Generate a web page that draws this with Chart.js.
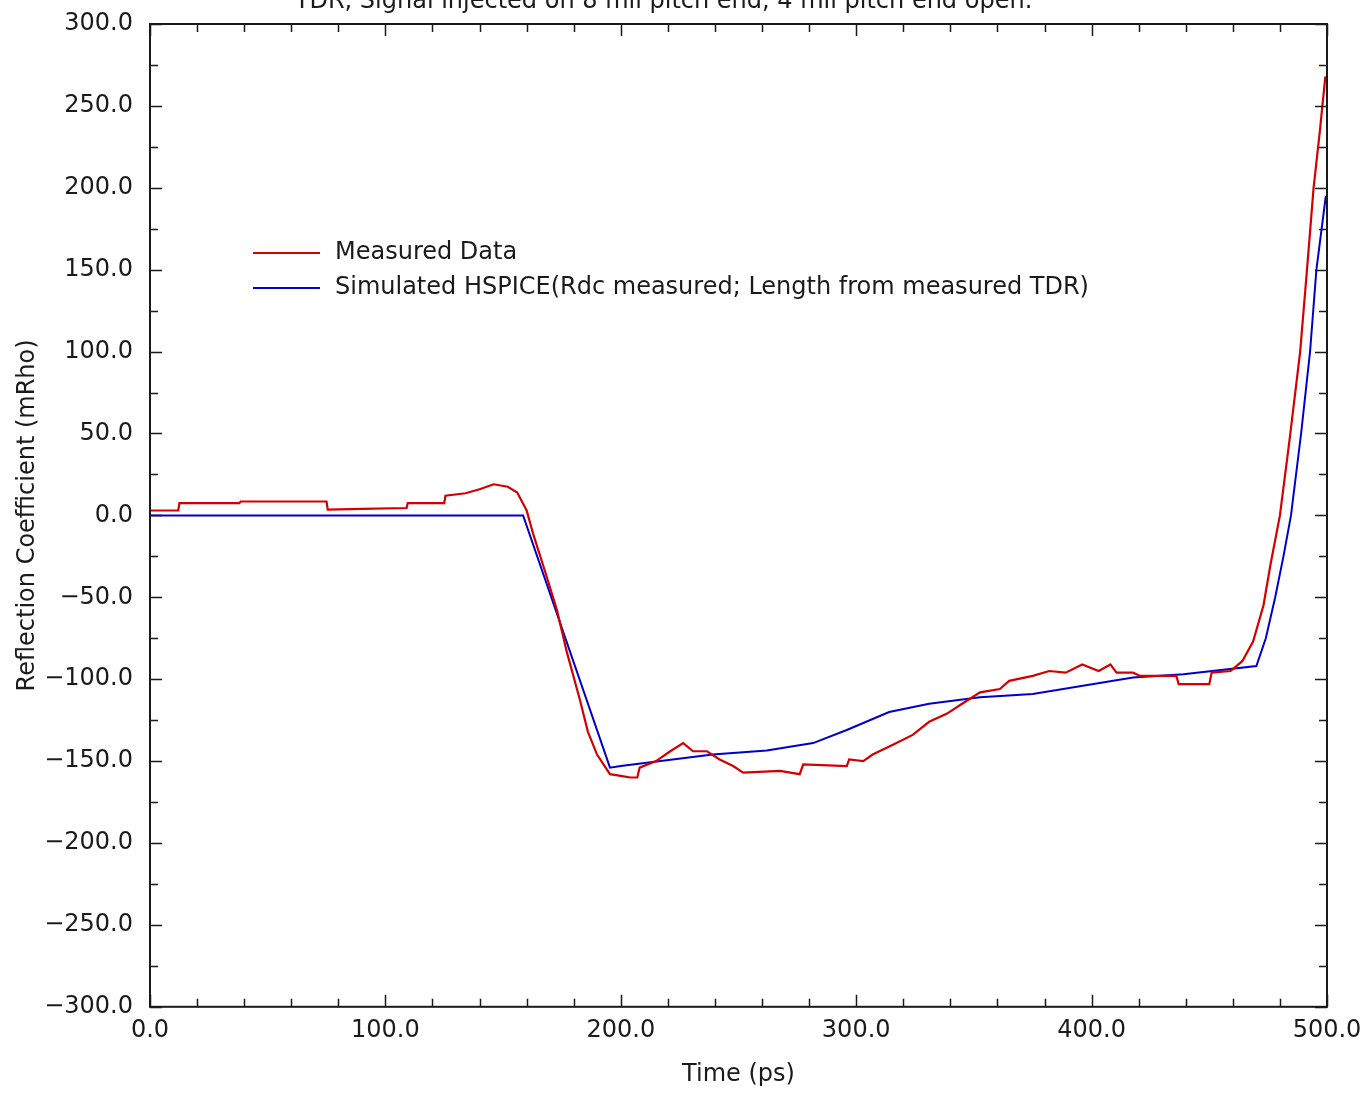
<!DOCTYPE html>
<html>
<head>
<meta charset="utf-8">
<script src="https://cdn.jsdelivr.net/npm/chart.js"></script>
<style>
  html, body { margin: 0; padding: 0; background: #fff; overflow: hidden; }
  #wrap { position: absolute; left: 0; top: -14px; width: 1364px; height: 1107px; }
</style>
</head>
<body>
<div id="wrap"><canvas id="tdrChart"></canvas></div>
<script>
// Measured TDR (red)
const measuredTime = [0, 12, 12.5, 38, 38.5, 75, 75.5, 90, 109, 109.5, 125, 125.5, 134, 140, 146, 152, 156, 160,
  162.7, 168, 172.9, 177, 182.7, 186, 189.9, 195.4, 200, 204, 207, 208, 215, 221, 226.5, 230.7, 236.6, 242,
  247.7, 252, 267.6, 276, 277.5, 296, 297, 303, 307, 315.6, 324, 331, 338.6, 345, 352.6, 361, 365, 375, 382,
  389, 396, 403, 408, 410.6, 417.6, 420.6, 436, 437, 450, 451, 459, 464, 468.6, 473, 476, 480, 484, 488.6,
  491.5, 494.3, 497, 499.3];
const measuredRho = [3, 3, 7.5, 7.5, 8.5, 8.5, 3.5, 4, 4.5, 7.5, 7.5, 12, 13.5, 16, 19, 17.5, 14, 3,
  -11, -35, -58, -83, -113, -132, -146, -158, -159, -160, -160, -154, -150, -144, -139, -144, -144, -149,
  -153, -157, -156, -158, -152, -153, -149, -150, -146, -140, -134, -126, -121, -115, -108, -106, -101, -98, -95,
  -96, -91, -95, -91, -96, -96, -98, -98, -103, -103, -96, -95, -89, -77, -55, -30, 0, 45, 100,
  150, 200, 235, 268];

// Simulated HSPICE (blue)
const simulatedTime = [0, 158.5, 195.4, 200, 239, 262, 281.7, 296, 314, 331, 352.6, 375, 417.6, 439, 470,
  474, 478, 481.5, 484.7, 489, 492.8, 495.5, 499.5];
const simulatedRho = [0, 0, -154, -153, -146, -143.5, -139, -131, -120, -115, -111, -109, -99, -97, -92,
  -75, -50, -25, 0, 50, 100, 150, 195];

const seriesLabels = ['Measured Data', 'Simulated HSPICE(Rdc measured; Length from measured TDR)'];
const seriesColors = ['#d40000', '#0000c8'];

const FONT = 'DejaVu Sans';
const INK = '#1a1a1a';

const toPoints = (xs, ys) => xs.map((x, i) => ({ x: x, y: ys[i] }));
const fmt = v => v.toFixed(1).replace('-', '\u2212');

// Cadre + petites graduations vers l'intérieur sur les 4 côtés, et légende dans la zone du tracé
const framePlugin = {
  id: 'frame',
  afterDatasetsDraw(chart) {
    const { ctx, chartArea: a, scales: { x, y } } = chart;
    ctx.save();
    ctx.strokeStyle = INK;
    ctx.lineWidth = 2;
    ctx.strokeRect(a.left, a.top, a.right - a.left, a.bottom - a.top);
    ctx.lineWidth = 1.5;
    ctx.beginPath();
    for (let v = 0; v <= 500; v += 20) {
      const px = Math.round(x.getPixelForValue(v)) + 0.5;
      const len = v % 100 === 0 ? 12 : 8;
      ctx.moveTo(px, a.bottom); ctx.lineTo(px, a.bottom - len);
      ctx.moveTo(px, a.top); ctx.lineTo(px, a.top + len);
    }
    for (let v = -300; v <= 300; v += 25) {
      const py = Math.round(y.getPixelForValue(v)) + 0.5;
      const len = v % 50 === 0 ? 12 : 8;
      ctx.moveTo(a.left, py); ctx.lineTo(a.left + len, py);
      ctx.moveTo(a.right, py); ctx.lineTo(a.right - len, py);
    }
    ctx.stroke();

    // légende
    ctx.font = '24px "' + FONT + '"';
    ctx.textBaseline = 'middle';
    ctx.fillStyle = INK;
    chart.data.datasets.forEach((ds, i) => {
      const ly = a.top + 229 + i * 35;
      ctx.strokeStyle = ds.borderColor;
      ctx.lineWidth = 2;
      ctx.beginPath();
      ctx.moveTo(a.left + 103, ly);
      ctx.lineTo(a.left + 170, ly);
      ctx.stroke();
      ctx.fillText(ds.label, a.left + 185, ly);
    });
    ctx.restore();
  }
};

new Chart(document.getElementById('tdrChart'), {
  type: 'line',
  data: {
    datasets: [
      {
        label: seriesLabels[0],
        data: toPoints(measuredTime, measuredRho),
        borderColor: seriesColors[0],
        borderWidth: 2.2,
        pointRadius: 0,
        tension: 0
      },
      {
        label: seriesLabels[1],
        data: toPoints(simulatedTime, simulatedRho),
        borderColor: seriesColors[1],
        borderWidth: 2,
        pointRadius: 0,
        tension: 0
      }
    ]
  },
  options: {
    responsive: true,
    maintainAspectRatio: false,
    animation: false,
    layout: { padding: { left: 0, right: 37, top: 0, bottom: 0 } },
    plugins: {
      legend: { display: false },
      tooltip: { enabled: false },
      title: {
        display: true,
        text: 'TDR, Signal injected on 8 mil pitch end, 4 mil pitch end open.',
        color: INK,
        font: { family: FONT, size: 24, weight: 'normal' },
        padding: { top: 1.6, bottom: 7.6 }
      }
    },
    scales: {
      x: {
        type: 'linear',
        min: 0,
        max: 500,
        grid: { display: false, drawTicks: false },
        border: { display: false },
        afterFit: s => { s.paddingRight = 0; },
        ticks: {
          stepSize: 100,
          padding: 10,
          maxRotation: 0,
          color: INK,
          font: { family: FONT, size: 24 },
          callback: v => fmt(v)
        },
        title: {
          display: true,
          text: 'Time (ps)',
          color: INK,
          font: { family: FONT, size: 24 },
          padding: { top: 5, bottom: 3.6 }
        }
      },
      y: {
        min: -300,
        max: 300,
        grid: { display: false, drawTicks: false },
        border: { display: false },
        afterFit: s => { s.width = 150; },
        ticks: {
          stepSize: 50,
          padding: 17,
          color: INK,
          font: { family: FONT, size: 24 },
          callback: v => fmt(v)
        },
        title: {
          display: true,
          text: 'Reflection Coefficient (mRho)',
          color: INK,
          font: { family: FONT, size: 24 },
          padding: { top: 13, bottom: 0 }
        }
      }
    }
  },
  plugins: [framePlugin]
});
</script>
</body>
</html>
